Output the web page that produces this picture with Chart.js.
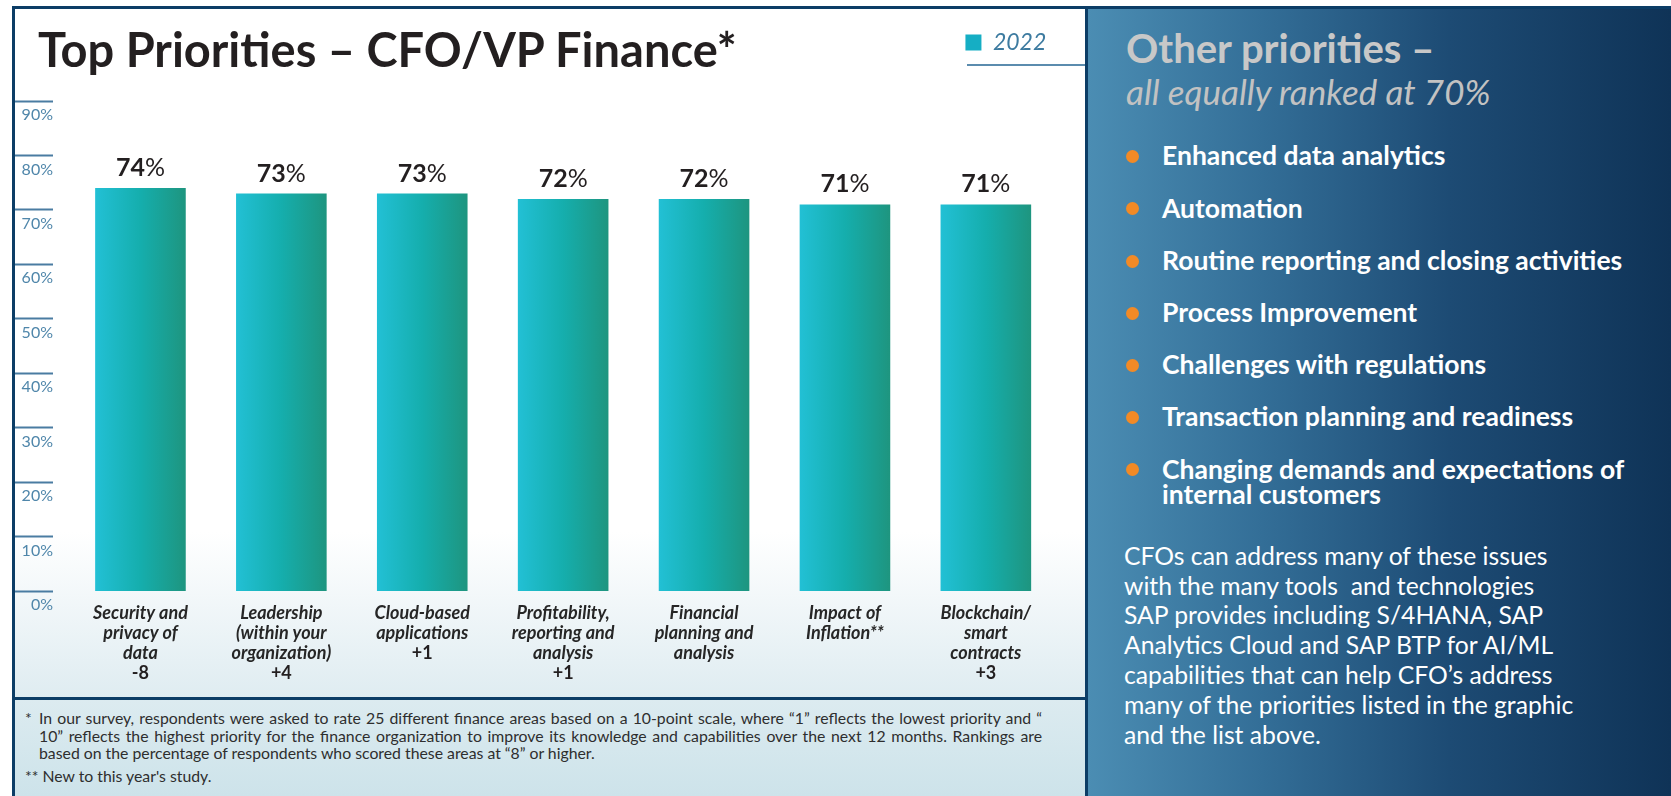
<!DOCTYPE html>
<html>
<head>
<meta charset="utf-8">
<title>Top Priorities – CFO/VP Finance</title>
<script src="https://cdn.jsdelivr.net/npm/chart.js@4.4.1/dist/chart.umd.min.js"></script>
<style>
  html, body { margin: 0; padding: 0; }
  body { width: 1671px; height: 796px; position: relative; overflow: hidden; background: #fff; font-family: Lato, sans-serif; }
  #left { position: absolute; left: 12px; top: 6px; width: 1076px; height: 790px; box-sizing: border-box;
          border: 3px solid #0c3d66; border-bottom: none; }
  #chartWrap { position: absolute; left: 0; top: 0; width: 1070px; height: 688px;
               background: linear-gradient(to bottom, #ffffff 0%, #ffffff 76%, #dfecf1 100%); }
  #bar1 { position: absolute; left: 0; top: 0; }
  #sep { position: absolute; left: 0; top: 688px; width: 1070px; height: 3px; background: #0c3d66; }
  #notes { position: absolute; left: 0; top: 691px; width: 1070px; height: 96px;
           background: linear-gradient(to bottom, #dcebf0, #cde3ea); }
  .abs { position: absolute; white-space: nowrap; line-height: 1.2; }
  #title { left: 38px; top: 20.5px; font-size: 47px; font-weight: 700; color: #231f20; }
  #legendLine { position: absolute; left: 967px; top: 64px; width: 118px; height: 2px; background: #5b8cae; }
  .note { position: absolute; font-size: 15.8px; line-height: 17.5px; color: #2e2e2e; white-space: nowrap; }
  .just { width: 1003px; text-align: justify; text-align-last: justify; }
  #right { position: absolute; left: 1088px; top: 6px; width: 583px; height: 790px; box-sizing: border-box;
           border-top: 3px solid #0c3d66;
           background: linear-gradient(to right, #4b8db3 0%, #336e97 30%, #1d4b74 62%, #0f3357 100%); }
  #otherHead { left: 1126px; top: 24px; font-size: 40px; font-weight: 700; color: #c8c8c8; }
  #otherSub { left: 1126px; top: 70px; font-size: 35px; font-style: italic; color: #c2c2c2; }
  .item { position: absolute; left: 1162px; font-size: 26.5px; font-weight: 700; color: #fff; line-height: 25.6px; white-space: nowrap; }
  .dot { position: absolute; left: 1126px; width: 13px; height: 13px; border-radius: 50%; background: #f28a26; }
  #para { position: absolute; left: 1124px; top: 540.8px; font-size: 24.7px; line-height: 29.8px; color: #fff; white-space: nowrap; }
</style>
</head>
<body>
<div id="left">
  <div id="chartWrap"><canvas id="bar1" width="1070" height="688"></canvas></div>
  <div id="sep"></div>
  <div id="notes"></div>
</div>
<div class="abs" id="title">Top Priorities – CFO/VP Finance*</div>
<div id="legendLine"></div>
<div class="note" style="left:25px; top:709px;">*</div>
<div class="note just" style="left:39px; top:709px;">In our survey, respondents were asked to rate 25 different finance areas based on a 10-point scale, where “1” reflects the lowest priority and “</div>
<div class="note just" style="left:39px; top:726.5px;">10” reflects the highest priority for the finance organization to improve its knowledge and capabilities over the next 12 months. Rankings are</div>
<div class="note" style="left:39px; top:744px;">based on the percentage of respondents who scored these areas at “8” or higher.</div>
<div class="note" style="left:25px; top:767px;">** New to this year's study.</div>

<div id="right"></div>
<div class="abs" id="otherHead">Other priorities –</div>
<div class="abs" id="otherSub">all equally ranked at 70%</div>
<div id="items"></div>
<div id="para">CFOs can address many of these issues<br>with the many tools &nbsp;and technologies<br>SAP provides including S/4HANA, SAP<br>Analytics Cloud and SAP BTP for AI/ML<br>capabilities that can help CFO’s address<br>many of the priorities listed in the graphic<br>and the list above.</div>

<script>
// 上位の優先事項（棒グラフ）

const priorities = [
  ['Security and', 'privacy of', 'data'],
  ['Leadership', '(within your', 'organization)'],
  ['Cloud-based', 'applications'],
  ['Profitability,', 'reporting and', 'analysis'],
  ['Financial', 'planning and', 'analysis'],
  ['Impact of', 'Inflation**'],
  ['Blockchain/', 'smart', 'contracts']
]
const rankChange = ['-8', '+4', '+1', '+1', '', '', '+3']
const share2022 = [74, 73, 73, 72, 72, 71, 71]
const yTickValues = [0, 10, 20, 30, 40, 50, 60, 70, 80, 90]
const seriesName = '2022'

const otherPriorities = [
  'Enhanced data analytics',
  'Automation',
  'Routine reporting and closing activities',
  'Process Improvement',
  'Challenges with regulations',
  'Transaction planning and readiness',
  'Changing demands and expectations of<br>internal customers'
]

// 右側のリスト
const listWrap = document.getElementById('items')
otherPriorities.forEach((t, i) => {
  const base = 164.3 + i * 52.2
  listWrap.insertAdjacentHTML('beforeend',
    '<div class="dot" style="top:' + (base - 14.1) + 'px"></div>' +
    '<div class="item" style="top:' + (base - 21) + 'px">' + t + '</div>')
})

const BAR_FRAC = 0.643
const X_PAD = 12
const LINE_H = 20

Chart.defaults.font.family = 'Lato'

function barFill(c) {
  const chart = c.chart
  const x = chart.scales.x
  if (!chart.chartArea || !x) return '#17afae'
  const cx = x.getPixelForValue(c.dataIndex)
  const half = x.width / priorities.length * BAR_FRAC / 2
  const g = chart.ctx.createLinearGradient(cx - half, 0, cx + half, 0)
  g.addColorStop(0, '#22c0d5')
  g.addColorStop(0.5, '#15aead')
  g.addColorStop(1, '#1e957f')
  return g
}

// 凡例の下に余白
const legendGap = {
  id: 'legendGap',
  beforeInit(chart) {
    const fit = chart.legend.fit
    chart.legend.fit = function () { fit.call(this); this.height += 37 }
  }
}

// 棒の上の値
const valueLabels = {
  id: 'valueLabels',
  afterDatasetsDraw(chart) {
    const ctx = chart.ctx
    ctx.save()
    ctx.fillStyle = '#231f20'
    ctx.textAlign = 'left'
    ctx.textBaseline = 'alphabetic'
    chart.getDatasetMeta(0).data.forEach((bar, i) => {
      const num = String(share2022[i])
      ctx.font = 'bold 25px Lato'
      const w1 = ctx.measureText(num).width
      ctx.font = '25px Lato'
      const w2 = ctx.measureText('%').width
      const left = bar.x - (w1 + w2) / 2
      const y = bar.y - 12
      ctx.font = 'bold 25px Lato'
      ctx.fillText(num, left, y)
      ctx.font = '25px Lato'
      ctx.fillText('%', left + w1, y)
    })
    ctx.restore()
  }
}

// 順位の変動
const rankLabels = {
  id: 'rankLabels',
  afterDraw(chart) {
    const x = chart.scales.x
    const ctx = chart.ctx
    ctx.save()
    ctx.font = 'bold 18px Lato'
    ctx.fillStyle = '#231f20'
    ctx.textAlign = 'center'
    ctx.textBaseline = 'middle'
    rankChange.forEach((c, i) => {
      if (!c) return
      const y = x.top + X_PAD + priorities[i].length * LINE_H + LINE_H / 2
      ctx.fillText(c, x.getPixelForValue(i), y)
    })
    ctx.restore()
  }
}

new Chart(document.getElementById('bar1'), {
  type: 'bar',
  data: {
    labels: priorities,
    datasets: [{
      label: seriesName,
      data: share2022,
      backgroundColor: barFill,
      barPercentage: BAR_FRAC,
      categoryPercentage: 1
    }]
  },
  options: {
    responsive: false,
    animation: false,
    layout: { padding: { top: 12, right: 28.7, left: 0, bottom: 0 } },
    plugins: {
      legend: {
        position: 'top',
        align: 'end',
        labels: {
          boxWidth: 16,
          boxHeight: 16,
          padding: 10,
          color: '#3d7ba0',
          font: { size: 23, style: 'italic' },
          generateLabels: chart => chart.data.datasets.map((ds, i) => ({
            text: ds.label,
            fillStyle: '#15aec4',
            strokeStyle: '#15aec4',
            lineWidth: 0,
            fontColor: '#3d7ba0',
            hidden: false,
            datasetIndex: i
          }))
        }
      },
      tooltip: { enabled: false }
    },
    scales: {
      x: {
        grid: { display: false, drawTicks: false },
        border: { display: false },
        ticks: {
          autoSkip: false,
          maxRotation: 0,
          padding: X_PAD,
          color: '#262626',
          font: { size: 18, style: 'italic', weight: 'bold', lineHeight: LINE_H / 18 }
        },
        afterFit: s => { s.height = 106 }
      },
      // 棒が使う軸（表示は目盛り用の軸に任せる）
      y: {
        min: 0,
        max: 90,
        weight: 0,
        border: { display: false },
        grid: { display: false, drawTicks: false },
        ticks: { display: false },
        afterFit: s => { s.width = 17 }
      },
      // 目盛り線とラベル
      yTicks: {
        type: 'linear',
        position: 'left',
        min: 0,
        max: 90,
        weight: 1,
        border: { display: false },
        grid: { drawOnChartArea: false, drawTicks: true, tickLength: 38, tickColor: '#4a7ca2', tickWidth: 2 },
        afterBuildTicks: s => { s.ticks = yTickValues.map(t => ({ value: t })) },
        afterFit: s => { s.width = 38 },
        ticks: {
          padding: -38,
          labelOffset: 14,
          color: '#4f86aa',
          font: { size: 16 },
          callback: t => t + '%'
        }
      }
    }
  },
  plugins: [legendGap, valueLabels, rankLabels]
})
</script>
</body>
</html>
